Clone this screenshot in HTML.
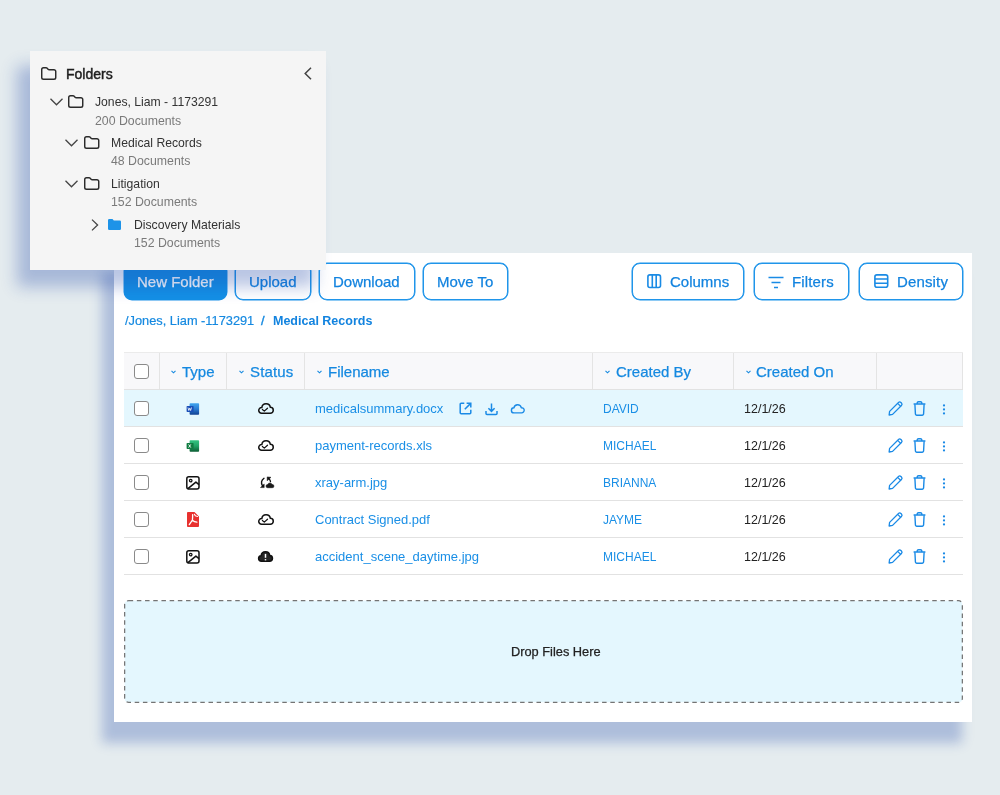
<!DOCTYPE html>
<html><head><meta charset="utf-8">
<style>
*{box-sizing:border-box;margin:0;padding:0}
html,body{width:1000px;height:795px;overflow:hidden;background:#e5ecef;font-family:"Liberation Sans",sans-serif}
.a{position:absolute}
.t{position:absolute;white-space:nowrap;line-height:1;will-change:transform}
svg{position:absolute;overflow:visible}
#main{position:absolute;left:114px;top:253px;width:858px;height:469px;background:#fff;box-shadow:-11px 20px 11px 1px rgba(25,65,165,.27)}
#fold{position:absolute;left:30px;top:51px;width:296px;height:219px;background:#f5f5f5;box-shadow:-12px 16px 15px 1px rgba(25,65,165,.3);z-index:5}
.btn{position:absolute;top:263px;height:37px;border:1px solid #1f95ea;box-shadow:0 0 0 .5px #1f95ea;border-radius:8px;color:#1283df;font-size:15px;background:#fff}
.btn .t{top:10px;-webkit-text-stroke:.25px currentColor}
.blue{color:#1283df}
.hd{font-size:15px;color:#1589e0;-webkit-text-stroke:.25px currentColor}
.fn{font-size:13px;color:#1a8fe6}
.nm{font-size:12px;color:#1a8fe6}
.dt{font-size:12.5px;color:#222}
.cb{position:absolute;left:134px;width:15px;height:15px;border:1.5px solid #8a8a8a;border-radius:3px;background:#fff}
.line{position:absolute;left:124px;width:839px;height:1px;background:#e2e2e2}
.vl{position:absolute;top:353px;width:1px;height:36px;background:#e4e4e4}
</style></head><body>

<div id="fold">
  <!-- header -->
  <svg style="left:11px;top:16px" width="14.5" height="12.6" viewBox="0 0 15 13"><path d="M.75 2.6A1.85 1.85 0 0 1 2.6.75h2.6a1.6 1.6 0 0 1 1.2.55l.9 1a1.6 1.6 0 0 0 1.2.55h4.9a1.85 1.85 0 0 1 1.85 1.85v6.1a1.85 1.85 0 0 1-1.85 1.85H2.6A1.85 1.85 0 0 1 .75 10.8z" fill="none" stroke="#2b2b2b" stroke-width="1.5"/></svg>
  <div class="t" style="left:36.2px;top:16.3px;font-size:14px;color:#1e1e1e;-webkit-text-stroke:.45px #1e1e1e">Folders</div>
  <svg style="left:274px;top:16px" width="8" height="13" viewBox="0 0 8 13"><path d="M7 .8L1.2 6.5 7 12.2" fill="none" stroke="#444" stroke-width="1.5"/></svg>

  <!-- Jones -->
  <svg style="left:19.5px;top:46.8px" width="13" height="8" viewBox="0 0 13 8"><path d="M.5.8l6 6 6-6" fill="none" stroke="#444" stroke-width="1.3"/></svg>
  <svg style="left:38px;top:44.1px" width="14.5" height="12.6" viewBox="0 0 15 13"><path d="M.75 2.6A1.85 1.85 0 0 1 2.6.75h2.6a1.6 1.6 0 0 1 1.2.55l.9 1a1.6 1.6 0 0 0 1.2.55h4.9a1.85 1.85 0 0 1 1.85 1.85v6.1a1.85 1.85 0 0 1-1.85 1.85H2.6A1.85 1.85 0 0 1 .75 10.8z" fill="none" stroke="#2b2b2b" stroke-width="1.5"/></svg>
  <div class="t" style="left:64.9px;top:45.2px;font-size:12.2px;color:#333">Jones, Liam - 1173291</div>
  <div class="t" style="left:65.2px;top:63.8px;font-size:12.3px;color:#7a7a7a">200 Documents</div>

  <!-- Medical Records -->
  <svg style="left:35px;top:87.8px" width="13" height="8" viewBox="0 0 13 8"><path d="M.5.8l6 6 6-6" fill="none" stroke="#444" stroke-width="1.3"/></svg>
  <svg style="left:53.6px;top:85.1px" width="14.5" height="12.6" viewBox="0 0 15 13"><path d="M.75 2.6A1.85 1.85 0 0 1 2.6.75h2.6a1.6 1.6 0 0 1 1.2.55l.9 1a1.6 1.6 0 0 0 1.2.55h4.9a1.85 1.85 0 0 1 1.85 1.85v6.1a1.85 1.85 0 0 1-1.85 1.85H2.6A1.85 1.85 0 0 1 .75 10.8z" fill="none" stroke="#2b2b2b" stroke-width="1.5"/></svg>
  <div class="t" style="left:80.6px;top:85.8px;font-size:12.2px;color:#333">Medical Records</div>
  <div class="t" style="left:80.6px;top:104.2px;font-size:12.3px;color:#7a7a7a">48 Documents</div>

  <!-- Litigation -->
  <svg style="left:35px;top:128.8px" width="13" height="8" viewBox="0 0 13 8"><path d="M.5.8l6 6 6-6" fill="none" stroke="#444" stroke-width="1.3"/></svg>
  <svg style="left:53.6px;top:126.1px" width="14.5" height="12.6" viewBox="0 0 15 13"><path d="M.75 2.6A1.85 1.85 0 0 1 2.6.75h2.6a1.6 1.6 0 0 1 1.2.55l.9 1a1.6 1.6 0 0 0 1.2.55h4.9a1.85 1.85 0 0 1 1.85 1.85v6.1a1.85 1.85 0 0 1-1.85 1.85H2.6A1.85 1.85 0 0 1 .75 10.8z" fill="none" stroke="#2b2b2b" stroke-width="1.5"/></svg>
  <div class="t" style="left:80.6px;top:126.8px;font-size:12.2px;color:#333">Litigation</div>
  <div class="t" style="left:80.6px;top:145.2px;font-size:12.3px;color:#7a7a7a">152 Documents</div>

  <!-- Discovery -->
  <svg style="left:61px;top:168px" width="8" height="12" viewBox="0 0 8 12"><path d="M1 .6l5.6 5.4L1 11.4" fill="none" stroke="#444" stroke-width="1.3"/></svg>
  <svg style="left:78px;top:168px" width="13" height="11" viewBox="0 0 13 11"><path d="M0 1.2A1.2 1.2 0 0 1 1.2 0h3.3l1.3 1.6h6A1.2 1.2 0 0 1 13 2.8v7A1.2 1.2 0 0 1 11.8 11H1.2A1.2 1.2 0 0 1 0 9.8z" fill="#1d93e8"/></svg>
  <div class="t" style="left:104.4px;top:168px;font-size:12.2px;color:#333">Discovery Materials</div>
  <div class="t" style="left:104.4px;top:186px;font-size:12.3px;color:#7a7a7a">152 Documents</div>
</div>

<div id="main"></div>

<!-- toolbar -->
<div class="btn" style="left:124px;width:103px;background:#1490e6;border-color:#1490e6"><div class="t" style="left:11.5px;color:#fff">New Folder</div></div>
<div class="btn" style="left:235px;width:76px"><div class="t" style="left:12.5px">Upload</div></div>
<div class="btn" style="left:319px;width:96px"><div class="t" style="left:13px">Download</div></div>
<div class="btn" style="left:423px;width:85px"><div class="t" style="left:12.5px">Move To</div></div>

<div class="btn" style="left:632px;width:112px">
  <svg style="left:13.5px;top:9.5px" width="15" height="15" viewBox="0 0 15 15"><rect x=".9" y=".9" width="12.6" height="12.6" rx="2" fill="none" stroke="#1a8be5" stroke-width="1.6"/><path d="M5.3 1v13M9.2 1v13" stroke="#1a8be5" stroke-width="1.6"/></svg>
  <div class="t" style="left:37px">Columns</div>
</div>
<div class="btn" style="left:754px;width:95px">
  <svg style="left:13px;top:10.5px" width="16" height="14" viewBox="0 0 16 14"><path d="M.5 2.5h15M3.5 7.5h9M6 12.5h4" stroke="#1a8be5" stroke-width="1.7"/></svg>
  <div class="t" style="left:37px;letter-spacing:.15px">Filters</div>
</div>
<div class="btn" style="left:859px;width:104px">
  <svg style="left:13.5px;top:10px" width="15" height="14" viewBox="0 0 15 14"><rect x=".9" y=".9" width="12.8" height="12.4" rx="2" fill="none" stroke="#1a8be5" stroke-width="1.6"/><path d="M1 5h12.6M1 9.2h12.6" stroke="#1a8be5" stroke-width="1.6"/></svg>
  <div class="t" style="left:36.5px;letter-spacing:.15px">Density</div>
</div>

<!-- breadcrumb -->
<div class="t" style="left:124.5px;top:314.8px;font-size:12.8px;color:#1589e0;-webkit-text-stroke:.2px #1589e0">/Jones, Liam -1173291</div>
<div class="t" style="left:260.5px;top:314.8px;font-size:12.8px;color:#1589e0;-webkit-text-stroke:.4px #1589e0">/</div>
<div class="t" style="left:272.8px;top:314.5px;font-size:12.5px;font-weight:700;color:#1283df">Medical Records</div>

<!-- table header -->
<div class="a" style="left:124px;top:352px;width:839px;height:37px;background:#f8f8fa;border-top:1px solid #ebebeb"></div>
<div class="vl" style="left:159px"></div>
<div class="vl" style="left:226px"></div>
<div class="vl" style="left:304px"></div>
<div class="vl" style="left:592px"></div>
<div class="vl" style="left:733px"></div>
<div class="vl" style="left:876px"></div>
<div class="vl" style="left:962px"></div>

<div class="cb" style="top:364px"></div>
<svg style="left:171px;top:370px" width="5" height="4" viewBox="0 0 5 4"><path d="M.5.8l2 2 2-2" fill="none" stroke="#1589e0" stroke-width="1.1"/></svg>
<div class="t hd" style="left:182.4px;top:363.8px">Type</div>
<svg style="left:239px;top:370px" width="5" height="4" viewBox="0 0 5 4"><path d="M.5.8l2 2 2-2" fill="none" stroke="#1589e0" stroke-width="1.1"/></svg>
<div class="t hd" style="left:249.6px;top:363.8px;letter-spacing:.15px">Status</div>
<svg style="left:317px;top:370px" width="5" height="4" viewBox="0 0 5 4"><path d="M.5.8l2 2 2-2" fill="none" stroke="#1589e0" stroke-width="1.1"/></svg>
<div class="t hd" style="left:327.9px;top:363.8px">Filename</div>
<svg style="left:605px;top:370px" width="5" height="4" viewBox="0 0 5 4"><path d="M.5.8l2 2 2-2" fill="none" stroke="#1589e0" stroke-width="1.1"/></svg>
<div class="t hd" style="left:615.5px;top:363.8px">Created By</div>
<svg style="left:745.5px;top:370px" width="5" height="4" viewBox="0 0 5 4"><path d="M.5.8l2 2 2-2" fill="none" stroke="#1589e0" stroke-width="1.1"/></svg>
<div class="t hd" style="left:756.2px;top:363.8px">Created On</div>

<!-- rows -->
<div class="a" style="left:124px;top:389px;width:839px;height:37px;background:#e4f7fe"></div>
<div class="line" style="top:389px"></div>
<div class="line" style="top:426px"></div>
<div class="line" style="top:463px"></div>
<div class="line" style="top:500px"></div>
<div class="line" style="top:537px"></div>
<div class="line" style="top:574px"></div>

<!--ROWS-->
<div class="cb" style="top:401.0px"></div>
<svg style="left:186px;top:402.5px" width="14" height="13" viewBox="0 0 14 13"><defs><linearGradient id="wg389" x1="0" y1="0" x2="0" y2="1"><stop offset="0" stop-color="#41a5ee"/><stop offset=".5" stop-color="#2b7cd3"/><stop offset="1" stop-color="#103f91"/></linearGradient></defs><rect x="3.6" y=".2" width="9.5" height="11.6" rx=".8" fill="url(#wg389)"/><rect x=".6" y="3" width="7" height="6" rx=".7" fill="#1a4fb8"/><path d="M1.9 4.5l.9 3 .9-2.3.9 2.3.9-3" fill="none" stroke="#fff" stroke-width=".8"/></svg>
<svg style="left:257.9px;top:402.5px" width="16" height="11" viewBox="0 0 16 11"><path d="M3.6 10.25H12.3A2.95 2.95 0 0 0 12.34 4.35A4.3 4.3 0 0 0 3.83 4.56A2.85 2.85 0 1 0 3.6 10.25Z" fill="none" stroke="#111" stroke-width="1.5" stroke-linejoin="round"/><path d="M4.4 6.5l1.9 1.65 3.2-2.95" fill="none" stroke="#111" stroke-width="1.2" stroke-linecap="round" stroke-linejoin="round"/></svg>
<div class="t fn" style="left:315.3px;top:402.3px">medicalsummary.docx</div>
<svg style="left:459px;top:402.0px" width="13" height="13" viewBox="0 0 13 13"><path d="M5.3 1.2H2.2a1 1 0 0 0-1 1v8.6a1 1 0 0 0 1 1h8.6a1 1 0 0 0 1-1V7.7" fill="none" stroke="#1a8ae6" stroke-width="1.5"/><path d="M5.8 7.2l5.6-5.6M7.6 1.2h4.2v4.2" fill="none" stroke="#1a8ae6" stroke-width="1.5"/></svg>
<svg style="left:485px;top:402.5px" width="13" height="13" viewBox="0 0 13 13"><path d="M6.5.6v7.6M3.4 5.3l3.1 3.1 3.1-3.1" fill="none" stroke="#1a8ae6" stroke-width="1.5"/><path d="M1 8v2.6a1 1 0 0 0 1 1h9a1 1 0 0 0 1-1V8" fill="none" stroke="#1a8ae6" stroke-width="1.5"/></svg>
<svg style="left:511px;top:403.7px" width="14" height="10" viewBox="0 0 14 10"><path d="M3 8.9H10.55A2.6 2.6 0 1 0 10.27 3.72A3.75 3.75 0 0 0 2.92 3.8A2.55 2.55 0 0 0 3 8.9Z" fill="none" stroke="#1a8ae6" stroke-width="1.4" stroke-linejoin="round"/></svg>
<div class="t nm" style="left:603.1px;top:403.1px">DAVID</div>
<div class="t dt" style="left:743.9px;top:402.8px">12/1/26</div>
<svg style="left:887.5px;top:400.7px" width="16" height="15" viewBox="0 0 16 15"><path d="M1.1 14l.5-3.6 8.9-8.9a1.7 1.7 0 0 1 2.4 0l.55.55a1.7 1.7 0 0 1 0 2.4l-8.9 8.9z" fill="none" stroke="#1a8ae6" stroke-width="1.3" stroke-linejoin="round"/><path d="M9.9 2.6l2.9 2.9" stroke="#1a8ae6" stroke-width="1.2"/></svg>
<svg style="left:913px;top:400.7px" width="13" height="15" viewBox="0 0 13 15"><path d="M.6 3h11.8M4.2 2.9V2a1.3 1.3 0 0 1 1.3-1.3h2a1.3 1.3 0 0 1 1.3 1.3v.9" fill="none" stroke="#1a8ae6" stroke-width="1.4"/><path d="M1.9 3.2l.5 9.6a1.4 1.4 0 0 0 1.4 1.4h5.4a1.4 1.4 0 0 0 1.4-1.4l.5-9.6" fill="none" stroke="#1a8ae6" stroke-width="1.4"/></svg>
<svg style="left:942px;top:403.5px" width="4" height="11" viewBox="0 0 4 11"><circle cx="2" cy="1.4" r="1.1" fill="#1a8ae6"/><circle cx="2" cy="5.4" r="1.1" fill="#1a8ae6"/><circle cx="2" cy="9.4" r="1.1" fill="#1a8ae6"/></svg>
<div class="cb" style="top:438.0px"></div>
<svg style="left:186px;top:439.5px" width="14" height="13" viewBox="0 0 14 13"><defs><linearGradient id="xg426" x1="0" y1="0" x2="0" y2="1"><stop offset="0" stop-color="#33c481"/><stop offset=".5" stop-color="#21a366"/><stop offset="1" stop-color="#0b5c33"/></linearGradient></defs><rect x="3.6" y=".2" width="9.5" height="11.6" rx=".8" fill="url(#xg426)"/><rect x=".6" y="3" width="7" height="6" rx=".7" fill="#107c41"/><path d="M2.6 4.4l2.2 3.2M4.8 4.4l-2.2 3.2" fill="none" stroke="#fff" stroke-width=".9"/></svg>
<svg style="left:257.9px;top:439.5px" width="16" height="11" viewBox="0 0 16 11"><path d="M3.6 10.25H12.3A2.95 2.95 0 0 0 12.34 4.35A4.3 4.3 0 0 0 3.83 4.56A2.85 2.85 0 1 0 3.6 10.25Z" fill="none" stroke="#111" stroke-width="1.5" stroke-linejoin="round"/><path d="M4.4 6.5l1.9 1.65 3.2-2.95" fill="none" stroke="#111" stroke-width="1.2" stroke-linecap="round" stroke-linejoin="round"/></svg>
<div class="t fn" style="left:315.3px;top:439.3px">payment-records.xls</div>
<div class="t nm" style="left:603.1px;top:440.1px">MICHAEL</div>
<div class="t dt" style="left:743.9px;top:439.8px">12/1/26</div>
<svg style="left:887.5px;top:437.7px" width="16" height="15" viewBox="0 0 16 15"><path d="M1.1 14l.5-3.6 8.9-8.9a1.7 1.7 0 0 1 2.4 0l.55.55a1.7 1.7 0 0 1 0 2.4l-8.9 8.9z" fill="none" stroke="#1a8ae6" stroke-width="1.3" stroke-linejoin="round"/><path d="M9.9 2.6l2.9 2.9" stroke="#1a8ae6" stroke-width="1.2"/></svg>
<svg style="left:913px;top:437.7px" width="13" height="15" viewBox="0 0 13 15"><path d="M.6 3h11.8M4.2 2.9V2a1.3 1.3 0 0 1 1.3-1.3h2a1.3 1.3 0 0 1 1.3 1.3v.9" fill="none" stroke="#1a8ae6" stroke-width="1.4"/><path d="M1.9 3.2l.5 9.6a1.4 1.4 0 0 0 1.4 1.4h5.4a1.4 1.4 0 0 0 1.4-1.4l.5-9.6" fill="none" stroke="#1a8ae6" stroke-width="1.4"/></svg>
<svg style="left:942px;top:440.5px" width="4" height="11" viewBox="0 0 4 11"><circle cx="2" cy="1.4" r="1.1" fill="#1a8ae6"/><circle cx="2" cy="5.4" r="1.1" fill="#1a8ae6"/><circle cx="2" cy="9.4" r="1.1" fill="#1a8ae6"/></svg>
<div class="cb" style="top:475.0px"></div>
<svg style="left:186px;top:475.8px" width="14" height="14" viewBox="0 0 14 14"><rect x=".8" y=".8" width="12.2" height="12.2" rx="2" fill="none" stroke="#111" stroke-width="1.5"/><circle cx="4.7" cy="4.6" r="1.3" fill="none" stroke="#111" stroke-width="1.2"/><path d="M1.6 12.8L9.9 6.1 13 8.6" fill="none" stroke="#111" stroke-width="1.5" stroke-linejoin="round"/></svg>
<svg style="left:258px;top:474.0px" width="18" height="16" viewBox="0 0 18 16"><path d="M6 4.3Q2 7.3 4.4 11.6" fill="none" stroke="#111" stroke-width="1.35" stroke-linecap="round"/><path d="M2.5 13.6H6.2V9.9z" fill="#111" stroke="#111" stroke-width=".5" stroke-linejoin="round"/><path d="M9.2 2.9L13 3.3 9.2 6.8z" fill="#111" stroke="#111" stroke-width=".5" stroke-linejoin="round"/><path d="M10.8 4.8Q12.1 5.6 12.5 7.5" fill="none" stroke="#111" stroke-width="1.3" stroke-linecap="round"/><path d="M9.6 13.7H14.3A1.6 1.6 0 1 0 14.13 10.51A2.4 2.4 0 0 0 9.67 10.5A1.6 1.6 0 1 0 9.6 13.7Z" fill="#1a1a1a" stroke="#111" stroke-width=".6"/></svg>
<div class="t fn" style="left:315.3px;top:476.3px">xray-arm.jpg</div>
<div class="t nm" style="left:603.1px;top:477.1px">BRIANNA</div>
<div class="t dt" style="left:743.9px;top:476.8px">12/1/26</div>
<svg style="left:887.5px;top:474.7px" width="16" height="15" viewBox="0 0 16 15"><path d="M1.1 14l.5-3.6 8.9-8.9a1.7 1.7 0 0 1 2.4 0l.55.55a1.7 1.7 0 0 1 0 2.4l-8.9 8.9z" fill="none" stroke="#1a8ae6" stroke-width="1.3" stroke-linejoin="round"/><path d="M9.9 2.6l2.9 2.9" stroke="#1a8ae6" stroke-width="1.2"/></svg>
<svg style="left:913px;top:474.7px" width="13" height="15" viewBox="0 0 13 15"><path d="M.6 3h11.8M4.2 2.9V2a1.3 1.3 0 0 1 1.3-1.3h2a1.3 1.3 0 0 1 1.3 1.3v.9" fill="none" stroke="#1a8ae6" stroke-width="1.4"/><path d="M1.9 3.2l.5 9.6a1.4 1.4 0 0 0 1.4 1.4h5.4a1.4 1.4 0 0 0 1.4-1.4l.5-9.6" fill="none" stroke="#1a8ae6" stroke-width="1.4"/></svg>
<svg style="left:942px;top:477.5px" width="4" height="11" viewBox="0 0 4 11"><circle cx="2" cy="1.4" r="1.1" fill="#1a8ae6"/><circle cx="2" cy="5.4" r="1.1" fill="#1a8ae6"/><circle cx="2" cy="9.4" r="1.1" fill="#1a8ae6"/></svg>
<div class="cb" style="top:512.0px"></div>
<svg style="left:187px;top:512.1px" width="12" height="15" viewBox="0 0 12 15"><path d="M.9 0h6.6L12 4.5V14.1a.9.9 0 0 1-.9.9H.9a.9.9 0 0 1-.9-.9V.9A.9.9 0 0 1 .9 0z" fill="#e8312f"/><path d="M5.6 2.6c.1 2 0 3.8-.2 5.6M5.4 8.2L2.3 12.6M5.4 8.2c1.2 1.1 2.8 1.8 4.5 2" fill="none" stroke="#fff" stroke-width="1.3" stroke-linecap="round"/><path d="M7.4 2.4c.3 1.1 1.2 1.9 3.2 2.1" fill="none" stroke="#fff" stroke-width="1.2" stroke-linecap="round"/></svg>
<svg style="left:257.9px;top:513.5px" width="16" height="11" viewBox="0 0 16 11"><path d="M3.6 10.25H12.3A2.95 2.95 0 0 0 12.34 4.35A4.3 4.3 0 0 0 3.83 4.56A2.85 2.85 0 1 0 3.6 10.25Z" fill="none" stroke="#111" stroke-width="1.5" stroke-linejoin="round"/><path d="M4.4 6.5l1.9 1.65 3.2-2.95" fill="none" stroke="#111" stroke-width="1.2" stroke-linecap="round" stroke-linejoin="round"/></svg>
<div class="t fn" style="left:315.3px;top:513.3px">Contract Signed.pdf</div>
<div class="t nm" style="left:603.1px;top:514.1px">JAYME</div>
<div class="t dt" style="left:743.9px;top:513.8px">12/1/26</div>
<svg style="left:887.5px;top:511.7px" width="16" height="15" viewBox="0 0 16 15"><path d="M1.1 14l.5-3.6 8.9-8.9a1.7 1.7 0 0 1 2.4 0l.55.55a1.7 1.7 0 0 1 0 2.4l-8.9 8.9z" fill="none" stroke="#1a8ae6" stroke-width="1.3" stroke-linejoin="round"/><path d="M9.9 2.6l2.9 2.9" stroke="#1a8ae6" stroke-width="1.2"/></svg>
<svg style="left:913px;top:511.7px" width="13" height="15" viewBox="0 0 13 15"><path d="M.6 3h11.8M4.2 2.9V2a1.3 1.3 0 0 1 1.3-1.3h2a1.3 1.3 0 0 1 1.3 1.3v.9" fill="none" stroke="#1a8ae6" stroke-width="1.4"/><path d="M1.9 3.2l.5 9.6a1.4 1.4 0 0 0 1.4 1.4h5.4a1.4 1.4 0 0 0 1.4-1.4l.5-9.6" fill="none" stroke="#1a8ae6" stroke-width="1.4"/></svg>
<svg style="left:942px;top:514.5px" width="4" height="11" viewBox="0 0 4 11"><circle cx="2" cy="1.4" r="1.1" fill="#1a8ae6"/><circle cx="2" cy="5.4" r="1.1" fill="#1a8ae6"/><circle cx="2" cy="9.4" r="1.1" fill="#1a8ae6"/></svg>
<div class="cb" style="top:549.0px"></div>
<svg style="left:186px;top:549.8px" width="14" height="14" viewBox="0 0 14 14"><rect x=".8" y=".8" width="12.2" height="12.2" rx="2" fill="none" stroke="#111" stroke-width="1.5"/><circle cx="4.7" cy="4.6" r="1.3" fill="none" stroke="#111" stroke-width="1.2"/><path d="M1.6 12.8L9.9 6.1 13 8.6" fill="none" stroke="#111" stroke-width="1.5" stroke-linejoin="round"/></svg>
<svg style="left:258px;top:550.5px" width="15" height="11" viewBox="0 0 15 11"><path d="M3.4 10.25H11.6A2.9 2.9 0 0 0 11.8 4.46A4.35 4.35 0 0 0 3.17 4.66A2.8 2.8 0 0 0 3.4 10.25Z" fill="#262626" stroke="#111" stroke-width="1.5" stroke-linejoin="round"/><path d="M7.5 2.9v3.9" stroke="#fff" stroke-width="1.5"/><path d="M7.5 8.1v1.3" stroke="#fff" stroke-width="1.5"/></svg>
<div class="t fn" style="left:315.3px;top:550.3px">accident_scene_daytime.jpg</div>
<div class="t nm" style="left:603.1px;top:551.1px">MICHAEL</div>
<div class="t dt" style="left:743.9px;top:550.8px">12/1/26</div>
<svg style="left:887.5px;top:548.7px" width="16" height="15" viewBox="0 0 16 15"><path d="M1.1 14l.5-3.6 8.9-8.9a1.7 1.7 0 0 1 2.4 0l.55.55a1.7 1.7 0 0 1 0 2.4l-8.9 8.9z" fill="none" stroke="#1a8ae6" stroke-width="1.3" stroke-linejoin="round"/><path d="M9.9 2.6l2.9 2.9" stroke="#1a8ae6" stroke-width="1.2"/></svg>
<svg style="left:913px;top:548.7px" width="13" height="15" viewBox="0 0 13 15"><path d="M.6 3h11.8M4.2 2.9V2a1.3 1.3 0 0 1 1.3-1.3h2a1.3 1.3 0 0 1 1.3 1.3v.9" fill="none" stroke="#1a8ae6" stroke-width="1.4"/><path d="M1.9 3.2l.5 9.6a1.4 1.4 0 0 0 1.4 1.4h5.4a1.4 1.4 0 0 0 1.4-1.4l.5-9.6" fill="none" stroke="#1a8ae6" stroke-width="1.4"/></svg>
<svg style="left:942px;top:551.5px" width="4" height="11" viewBox="0 0 4 11"><circle cx="2" cy="1.4" r="1.1" fill="#1a8ae6"/><circle cx="2" cy="5.4" r="1.1" fill="#1a8ae6"/><circle cx="2" cy="9.4" r="1.1" fill="#1a8ae6"/></svg>
<!--/ROWS-->

<!-- drop zone -->
<svg style="left:124px;top:600px" width="839" height="103" viewBox="0 0 839 103"><rect x=".65" y=".65" width="837.7" height="101.7" rx="4" fill="#e4f7fe" stroke="#747474" stroke-width="1.25" stroke-dasharray="4.5 3.7"/></svg>
<div class="t" style="left:510.8px;top:646px;font-size:12.8px;color:#222;-webkit-text-stroke:.25px #222">Drop Files Here</div>

</body></html>
